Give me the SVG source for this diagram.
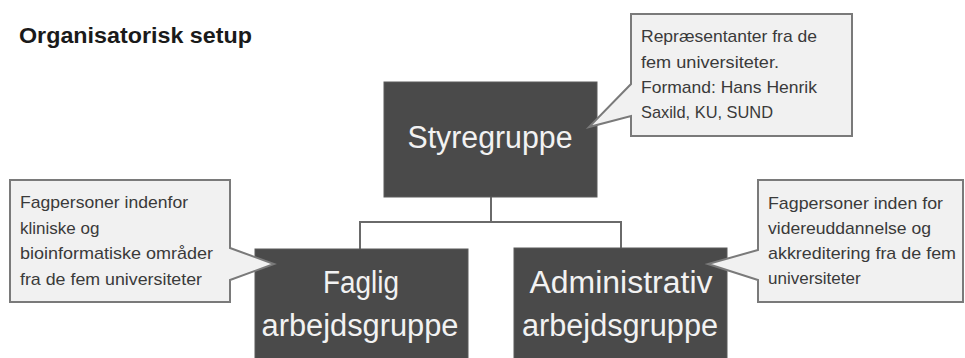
<svg xmlns="http://www.w3.org/2000/svg" width="965" height="358" viewBox="0 0 965 358">
<style>
.title{font-family:"Liberation Sans",Arial,sans-serif;font-weight:bold;font-size:22px;fill:#1a1a1a}
.box{fill:#4a4a4a;stroke:#5a5a5a;stroke-width:1}
.big{font-family:"Liberation Sans",Arial,sans-serif;font-size:31px;fill:#f2f2f2;text-anchor:middle}
.callout{fill:#f1f1f1;stroke:#7a7a7a;stroke-width:2;stroke-linejoin:miter}
.small{font-family:"Liberation Sans",Arial,sans-serif;font-size:17px;fill:#3a3a3a}
.conn{fill:none;stroke:#6a6a6a;stroke-width:2}
</style>
<rect width="965" height="358" fill="#ffffff"/>
<text class="title" x="19" y="43" textLength="233" lengthAdjust="spacingAndGlyphs">Organisatorisk setup</text>
<g id="connectors">
<path class="conn" d="M491,197 V222 M360,222 H621 M360,221 V249 M621,221 V248"/>
</g>
<g id="styregruppe">
<rect class="box" x="384" y="82" width="213" height="115"/>
<text class="big" x="490" y="148" textLength="165" lengthAdjust="spacingAndGlyphs">Styregruppe</text>
</g>
<g id="faglig">
<rect class="box" x="255" y="249" width="213" height="120"/>
<text class="big" x="361" y="293" textLength="76" lengthAdjust="spacingAndGlyphs">Faglig</text>
<text class="big" x="360" y="336" textLength="197" lengthAdjust="spacingAndGlyphs">arbejdsgruppe</text>
</g>
<g id="administrativ">
<rect class="box" x="514" y="248" width="213" height="121"/>
<text class="big" x="621" y="293" textLength="183" lengthAdjust="spacingAndGlyphs">Administrativ</text>
<text class="big" x="620" y="336" textLength="196" lengthAdjust="spacingAndGlyphs">arbejdsgruppe</text>
</g>
<g id="callout-top">
<path class="callout" d="M631,14 H852 V136 H631 V116 L589,127 L631,84 Z"/>
<text class="small" x="641" y="42" textLength="176" lengthAdjust="spacingAndGlyphs">Repræsentanter fra de</text>
<text class="small" x="641" y="68" textLength="138" lengthAdjust="spacingAndGlyphs">fem universiteter.</text>
<text class="small" x="641" y="93" textLength="176" lengthAdjust="spacingAndGlyphs">Formand: Hans Henrik</text>
<text class="small" x="641" y="118" textLength="132" lengthAdjust="spacingAndGlyphs">Saxild, KU, SUND</text>
</g>
<g id="callout-left">
<path class="callout" d="M10,180 H230 V248 L274,264 L230,280 V302 H10 Z"/>
<text class="small" x="20" y="208" textLength="168" lengthAdjust="spacingAndGlyphs">Fagpersoner indenfor</text>
<text class="small" x="20" y="234">kliniske og</text>
<text class="small" x="20" y="259" textLength="193" lengthAdjust="spacingAndGlyphs">bioinformatiske områder</text>
<text class="small" x="20" y="285" textLength="182" lengthAdjust="spacingAndGlyphs">fra de fem universiteter</text>
</g>
<g id="callout-right">
<path class="callout" d="M758,180 H963 V302 H758 V280 L708,264 L758,250 Z"/>
<text class="small" x="768" y="209" textLength="175" lengthAdjust="spacingAndGlyphs">Fagpersoner inden for</text>
<text class="small" x="768" y="234" textLength="163" lengthAdjust="spacingAndGlyphs">videreuddannelse og</text>
<text class="small" x="768" y="259" textLength="188" lengthAdjust="spacingAndGlyphs">akkreditering fra de fem</text>
<text class="small" x="768" y="284">universiteter</text>
</g>
</svg>
